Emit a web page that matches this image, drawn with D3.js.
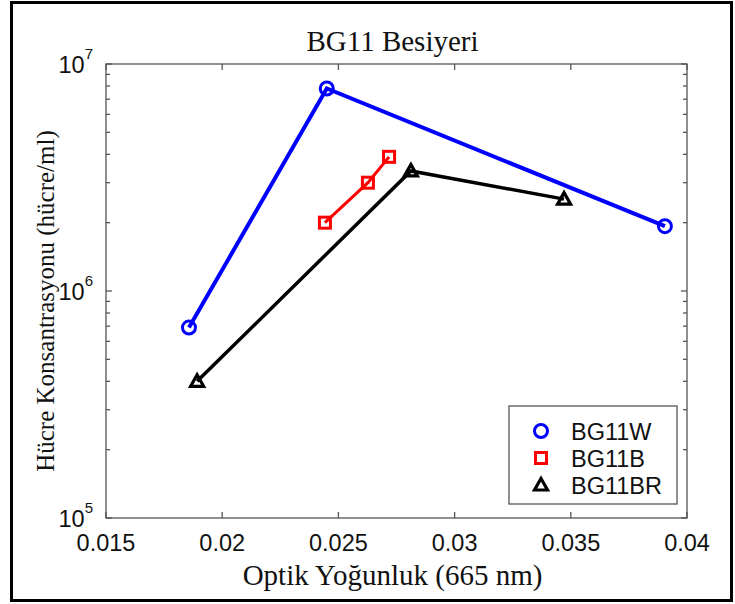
<!DOCTYPE html>
<html lang="en">
<head>
    <meta charset="utf-8">
    <title>BG11 Besiyeri</title>
    <style>
        body { margin: 0; background: #fff; }
        .tick-label { font-family: "Liberation Sans", Arial, sans-serif; font-size: 23.5px; fill: #111; }
        .serif { font-family: "Liberation Serif", "Times New Roman", serif; fill: #111; }
    </style>
</head>
<body>
<script src="https://cdn.jsdelivr.net/npm/d3@7"></script>
<script>
    // data
    var seriesNames = ["BG11W", "BG11B", "BG11BR"];
    var seriesColors = ["#0000ff", "#ff0000", "#000000"];
    var seriesShapes = ["circle", "square", "triangle"];
    var xW = [0.01857, 0.0245, 0.03905];
    var yW = [6.9e5, 7.8e6, 1.93e6];
    var xB = [0.02442, 0.02627, 0.02718];
    var yB = [2.0e6, 3.0e6, 3.9e6];
    var xBR = [0.01892, 0.02812, 0.03471];
    var yBR = [4.0e5, 3.38e6, 2.54e6];
    var xTicks = [0.015, 0.02, 0.025, 0.03, 0.035, 0.04];
    var xTickLabels = ["0.015", "0.02", "0.025", "0.03", "0.035", "0.04"];
    var yDecades = [5, 6, 7];

    var series = [
        {name: seriesNames[0], xs: xW, ys: yW},
        {name: seriesNames[1], xs: xB, ys: yB},
        {name: seriesNames[2], xs: xBR, ys: yBR}
    ];

    var W = 735, H = 604;
    var margin = {top: 64, right: 48, bottom: 86, left: 106},
        width = W - margin.left - margin.right,
        height = H - margin.top - margin.bottom;

    var x = d3.scaleLinear().domain([0.015, 0.04]).range([0, width]);
    var y = d3.scaleLog().domain([1e5, 1e7]).range([height, 0]);

    var svg = d3.select("body").append("svg")
        .attr("width", W)
        .attr("height", H);

    // outer frame
    svg.append("rect")
        .attr("x", 11.5).attr("y", 2.5)
        .attr("width", 720).attr("height", 598)
        .attr("fill", "none").attr("stroke", "#000").attr("stroke-width", 3);

    var g = svg.append("g")
        .attr("transform", "translate(" + margin.left + "," + margin.top + ")");

    // axes box
    g.append("rect")
        .attr("width", width).attr("height", height)
        .attr("fill", "none").attr("stroke", "#555").attr("stroke-width", 1.3);

    // x ticks (inside, bottom and top)
    xTicks.forEach(function (t, i) {
        var px = x(t);
        g.append("line").attr("x1", px).attr("x2", px).attr("y1", height).attr("y2", height - 6)
            .attr("stroke", "#555").attr("stroke-width", 1.3);
        g.append("line").attr("x1", px).attr("x2", px).attr("y1", 0).attr("y2", 6)
            .attr("stroke", "#555").attr("stroke-width", 1.3);
        g.append("text").attr("class", "tick-label")
            .attr("x", px).attr("y", height + 33)
            .attr("text-anchor", "middle")
            .text(xTickLabels[i]);
    });

    // y ticks, log major + minor
    var yTicks = [];
    for (var e = 5; e < 7; e++) {
        for (var m = 1; m < 10; m++) yTicks.push({v: m * Math.pow(10, e), major: m === 1});
    }
    yTicks.push({v: 1e7, major: true});
    yTicks.forEach(function (t) {
        var py = y(t.v), len = t.major ? 6 : 4;
        g.append("line").attr("x1", 0).attr("x2", len).attr("y1", py).attr("y2", py)
            .attr("stroke", "#555").attr("stroke-width", 1.3);
        g.append("line").attr("x1", width).attr("x2", width - len).attr("y1", py).attr("y2", py)
            .attr("stroke", "#555").attr("stroke-width", 1.3);
    });
    yDecades.forEach(function (d) {
        var t = g.append("text").attr("class", "tick-label")
            .attr("x", -13).attr("y", y(Math.pow(10, d)) + 9)
            .attr("text-anchor", "end");
        t.append("tspan").text("10");
        t.append("tspan").attr("dy", -14).attr("font-size", 15).text(d);
    });

    // lines
    var line = d3.line()
        .x(function (d) { return x(d[0]); })
        .y(function (d) { return y(d[1]); });
    var widths = [4, 3, 3.5];

    function marker(sel, shape, color) {
        if (shape === "circle") {
            sel.append("circle").attr("r", 6.5).attr("fill", "none")
                .attr("stroke", color).attr("stroke-width", 3);
        } else if (shape === "square") {
            sel.append("rect").attr("x", -5.5).attr("y", -5.5).attr("width", 11).attr("height", 11)
                .attr("fill", "none").attr("stroke", color).attr("stroke-width", 3);
        } else {
            sel.append("path").attr("d", "M0,-6.5L6.5,5L-6.5,5Z").attr("fill", "none")
                .attr("stroke", color).attr("stroke-width", 3.2).attr("stroke-linejoin", "miter");
        }
    }

    series.forEach(function (s, i) {
        var pts = s.xs.map(function (v, j) { return [v, s.ys[j]]; });
        g.append("path").datum(pts)
            .attr("d", line)
            .attr("fill", "none")
            .attr("stroke", seriesColors[i])
            .attr("stroke-width", widths[i]);
        g.selectAll(".m" + i).data(pts).enter().append("g")
            .attr("class", "m" + i)
            .attr("transform", function (d) { return "translate(" + x(d[0]) + "," + y(d[1]) + ")"; })
            .each(function () { marker(d3.select(this), seriesShapes[i], seriesColors[i]); });
    });

    // legend
    var lg = g.append("g").attr("transform", "translate(" + (width - 178) + "," + (height - 112) + ")");
    lg.append("rect").attr("width", 168).attr("height", 98)
        .attr("fill", "#fff").attr("stroke", "#555").attr("stroke-width", 1.3);
    seriesNames.forEach(function (n, i) {
        var row = lg.append("g").attr("transform", "translate(0," + (25 + i * 27) + ")");
        var mk = row.append("g").attr("transform", "translate(32,0)");
        marker(mk, seriesShapes[i], seriesColors[i]);
        row.append("text").attr("class", "tick-label")
            .attr("x", 62).attr("y", 9).attr("font-size", 25).text(n);
    });

    // titles
    svg.append("text").attr("class", "serif")
        .attr("x", margin.left + width / 2 - 4).attr("y", 51)
        .attr("text-anchor", "middle").attr("font-size", 29)
        .text("BG11 Besiyeri");
    svg.append("text").attr("class", "serif")
        .attr("x", margin.left + width / 2 - 4).attr("y", 585)
        .attr("text-anchor", "middle").attr("font-size", 29)
        .text("Optik Yoğunluk (665 nm)");
    svg.append("text").attr("class", "serif")
        .attr("transform", "translate(54," + (margin.top + height / 2 + 10) + ") rotate(-90)")
        .attr("text-anchor", "middle").attr("font-size", 25)
        .text("Hücre Konsantrasyonu (hücre/ml)");
</script>
</body>
</html>
